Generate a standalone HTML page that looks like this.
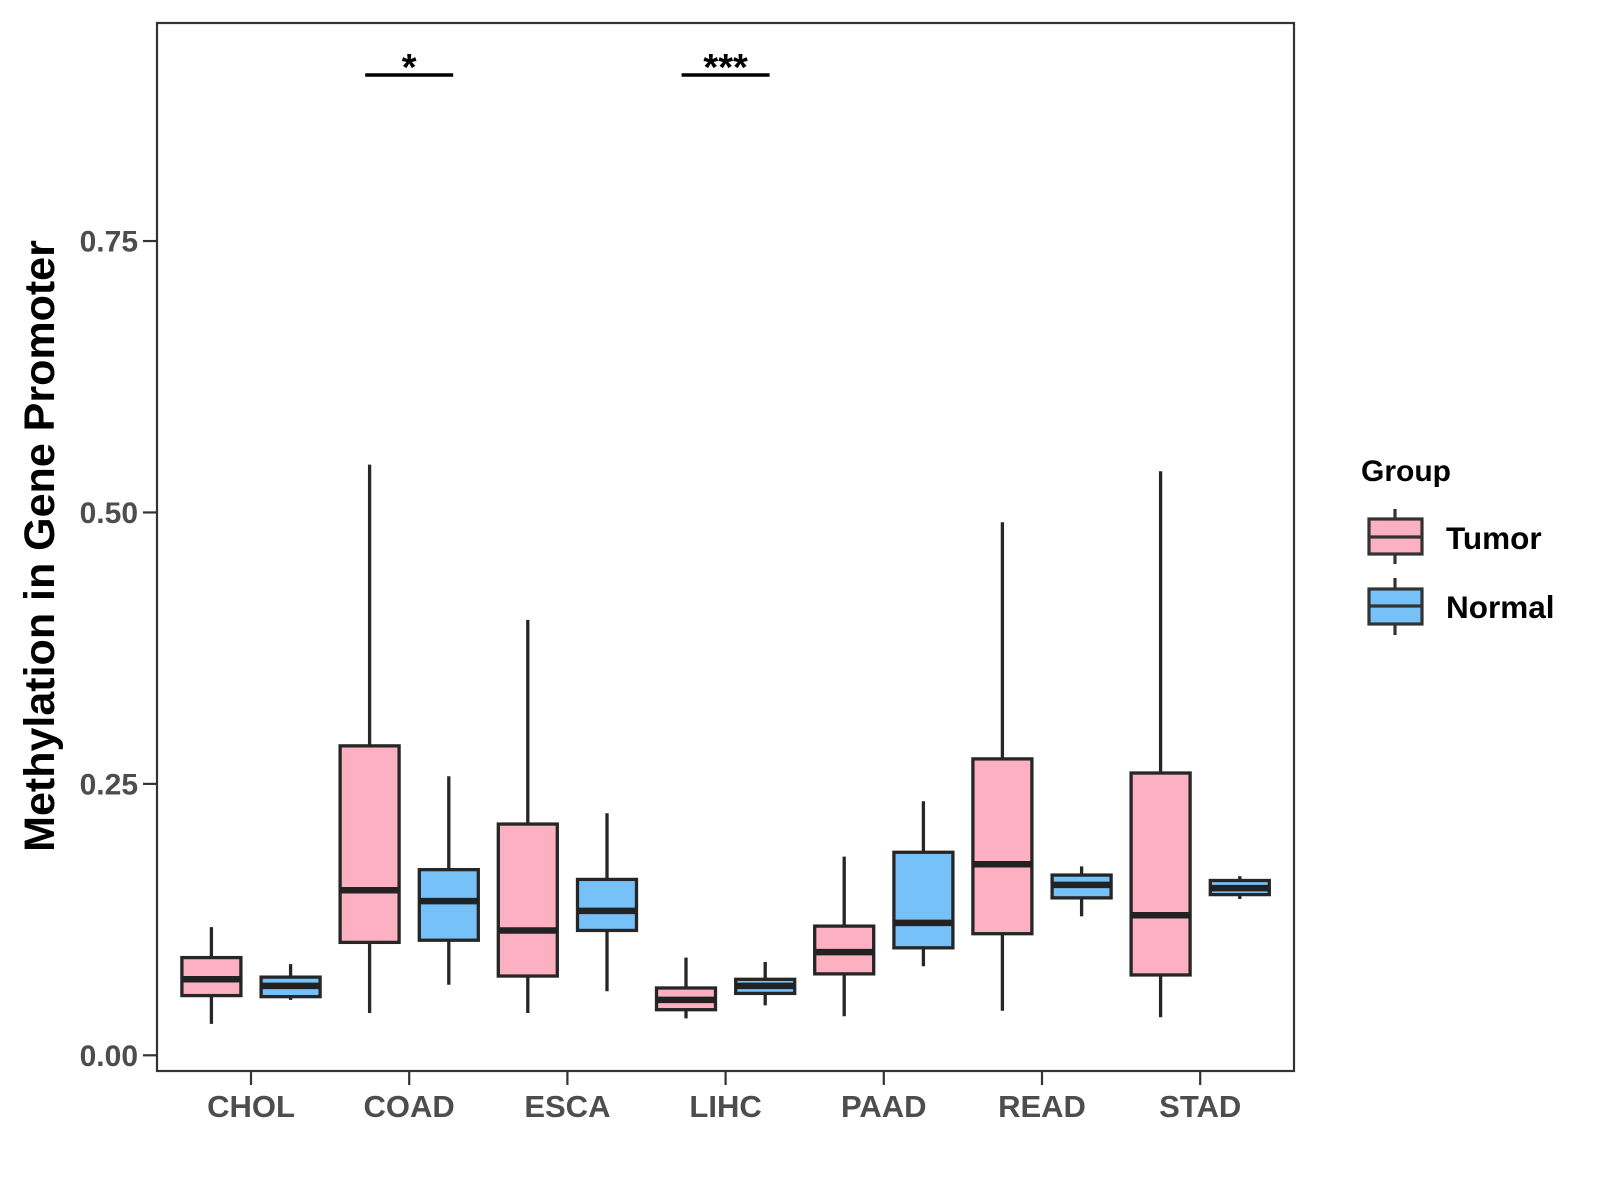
<!DOCTYPE html>
<html><head><meta charset="utf-8"><style>
body{margin:0;background:#fff}
svg{display:block;font-family:"Liberation Sans",Arial,sans-serif;font-weight:bold}
</style></head><body>
<svg id="chart" width="1600" height="1200" viewBox="0 0 1600 1200" xmlns="http://www.w3.org/2000/svg">
<rect x="157" y="23" width="1137" height="1048" fill="#fff" stroke="#333" stroke-width="2.2"/>
<g id="marks"></g>
<g id="axes"></g>
<text transform="translate(54,546) rotate(-90)" text-anchor="middle" font-size="43" fill="#000">Methylation in Gene Promoter</text>
<g>
<text x="1361" y="481" font-size="30" fill="#000">Group</text>
<g>
<line x1="1395" y1="509" x2="1395" y2="564" stroke="#333" stroke-width="3.2"/>
<rect x="1369" y="519" width="53" height="35" fill="#FDB0C1" stroke="#333" stroke-width="3.2"/>
<line x1="1369" y1="537" x2="1422" y2="537" stroke="#333" stroke-width="3.2"/>
<text x="1446" y="549" font-size="31.5" fill="#000">Tumor</text>
</g>
<g>
<line x1="1395" y1="578" x2="1395" y2="635" stroke="#333" stroke-width="3.2"/>
<rect x="1369" y="589" width="53" height="35" fill="#76C1F8" stroke="#333" stroke-width="3.2"/>
<line x1="1369" y1="606" x2="1422" y2="606" stroke="#333" stroke-width="3.2"/>
<text x="1446" y="618" font-size="31.5" fill="#000">Normal</text>
</g>
</g>
</svg>
<script>
const categories=["CHOL","COAD","ESCA","LIHC","PAAD","READ","STAD"];
// [lowWhisker, q1, median, q3, highWhisker]
const tumorStats=[[.029,.055,.070,.090,.118],[.039,.104,.152,.285,.544],[.039,.073,.115,.213,.401],[.034,.042,.051,.062,.090],[.036,.075,.095,.119,.183],[.041,.112,.176,.273,.491],[.035,.074,.129,.260,.538]];
const normalStats=[[.051,.054,.064,.072,.084],[.065,.106,.142,.171,.257],[.059,.115,.133,.162,.223],[.046,.057,.064,.070,.086],[.082,.099,.122,.187,.234],[.128,.145,.157,.166,.174],[.144,.148,.154,.161,.165]];
const yTicks=[0,0.25,0.5,0.75];
const yTickLabels=["0.00","0.25","0.50","0.75"];
const sigCategories=["COAD","LIHC"];
const sigLabels=["*","***"];

const NS="http://www.w3.org/2000/svg";
const yS=v=>1055.3-v*1085.7;
const xS=i=>251+i*158.2;
function mk(tag,attrs,parent){const e=document.createElementNS(NS,tag);for(const k in attrs)e.setAttribute(k,attrs[k]);parent.appendChild(e);return e;}
const marks=document.getElementById('marks'),axes=document.getElementById('axes');
function box(cx,s,fill,name){
  const g=mk('g',{},marks);
  
  
  const hw=29.5;
  mk('line',{x1:cx,x2:cx,y1:yS(s[4]),y2:yS(s[0]),stroke:'#262626','stroke-width':3.3},g);
  mk('rect',{x:cx-hw,y:yS(s[3]),width:2*hw,height:yS(s[1])-yS(s[3]),fill:fill,stroke:'#262626','stroke-width':3.3},g);
  mk('line',{x1:cx-hw,x2:cx+hw,y1:yS(s[2]),y2:yS(s[2]),stroke:'#222','stroke-width':6.5},g);
}
categories.forEach((c,i)=>{
  box(xS(i)-39.6,tumorStats[i],'#FDB0C1','box-tumor-'+c.toLowerCase());
  box(xS(i)+39.6,normalStats[i],'#76C1F8','box-normal-'+c.toLowerCase());
  const t=mk('line',{x1:xS(i),x2:xS(i),y1:1071,y2:1085,stroke:'#333','stroke-width':2.2},axes);
  
  
  const l=mk('text',{x:xS(i),y:1117,'text-anchor':'middle','font-size':31,fill:'#4d4d4d'},axes);
  
  
  l.textContent=c;
});
yTicks.forEach((v,i)=>{
  const t=mk('line',{x1:143,x2:157,y1:yS(v),y2:yS(v),stroke:'#333','stroke-width':2.2},axes);
  
  
  const l=mk('text',{x:138,y:yS(v)+10.5,'text-anchor':'end','font-size':30,fill:'#4d4d4d'},axes);
  
  
  l.textContent=yTickLabels[i];
});
sigCategories.forEach((c,j)=>{
  const i=categories.indexOf(c);
  const ln=mk('line',{x1:xS(i)-44,x2:xS(i)+44,y1:75,y2:75,stroke:'#000','stroke-width':3.5},marks);
  
  
  const t=mk('text',{x:xS(i),y:80,'text-anchor':'middle','font-size':38,fill:'#000'},marks);
  
  
  t.textContent=sigLabels[j];
});
</script>
</body></html>
